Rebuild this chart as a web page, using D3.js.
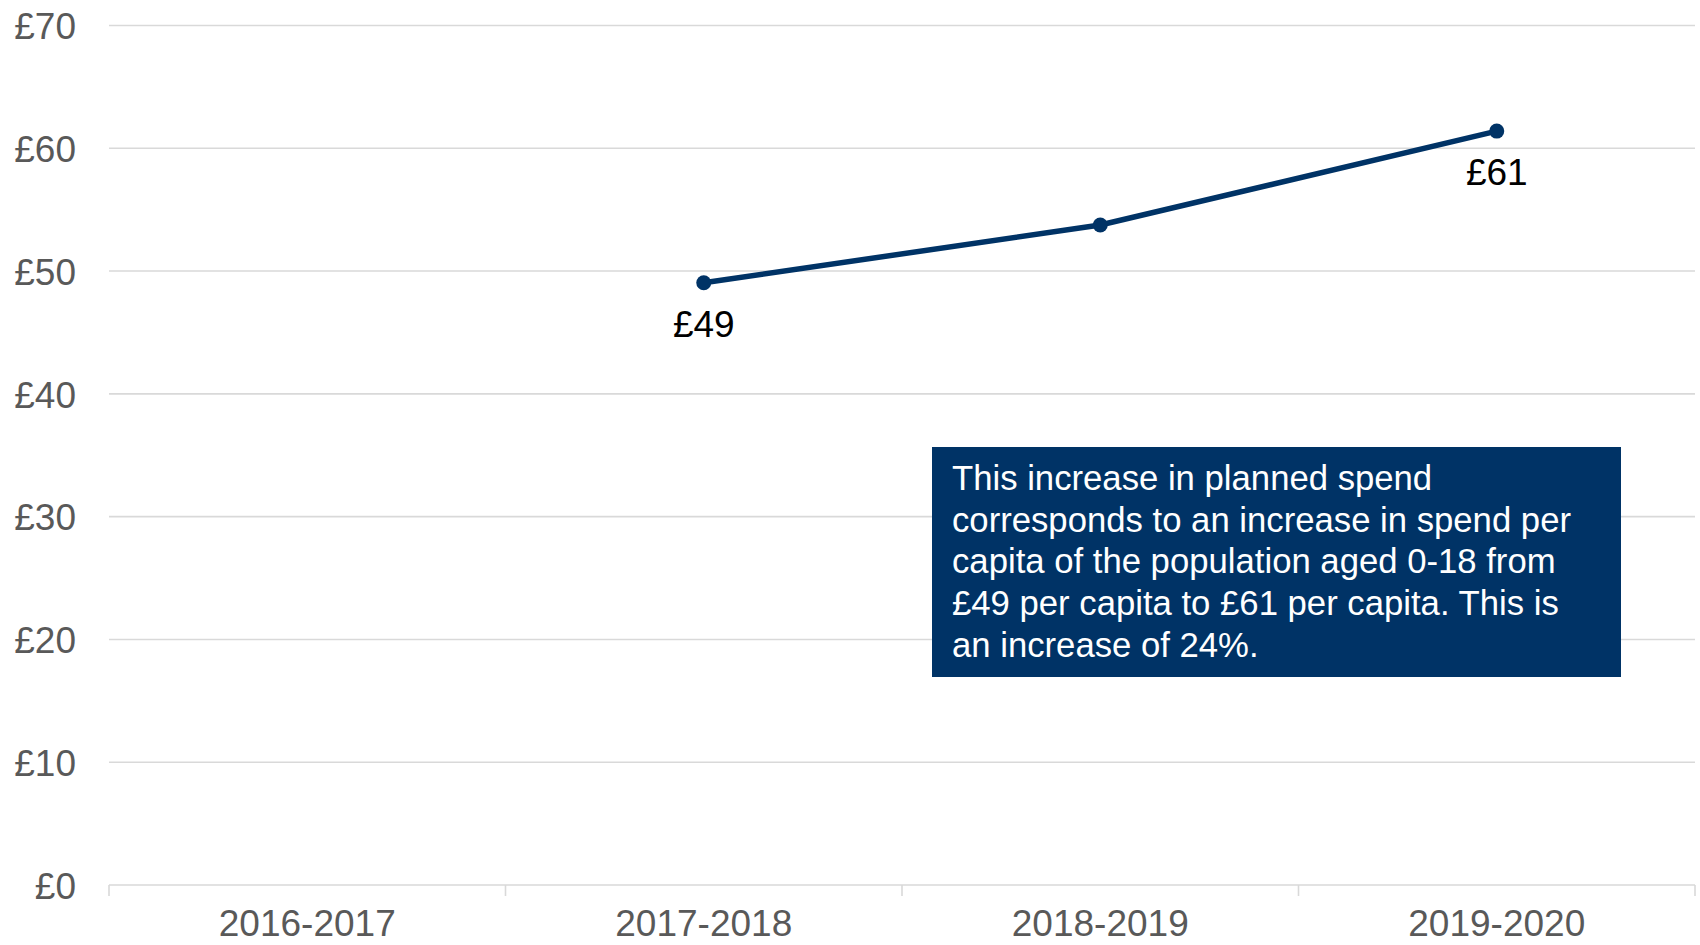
<!DOCTYPE html>
<html>
<head>
<meta charset="utf-8">
<script src="https://cdn.jsdelivr.net/npm/d3@7"></script>
<style>
  html, body { margin: 0; padding: 0; background: #ffffff; }
  svg { display: block; font-family: "Liberation Sans", Arial, sans-serif; }
</style>
</head>
<body>
<svg id="chart" width="1700" height="945"></svg>
<script>
const categories = ["2016-2017", "2017-2018", "2018-2019", "2019-2020"];
const spendPerCapita = [null, 49.05, 53.75, 61.4];
const pointLabels = [null, "£49", null, "£61"];
const yTicks = [0, 10, 20, 30, 40, 50, 60, 70];
const calloutLines = [
  "This increase in planned spend",
  "corresponds to an increase in spend per",
  "capita of the population aged 0-18 from",
  "£49 per capita to £61 per capita. This is",
  "an increase of 24%."
];

(function () {
const svg = d3.select("#chart");
const plotLeft = 109, plotRight = 1695, plotTop = 25.5, plotBottom = 885;

const x = d3.scaleBand().domain(categories).range([plotLeft, plotRight]).padding(0);
const y = d3.scaleLinear().domain([0, 70]).range([plotBottom, plotTop]);

// gridlines
svg.append("g")
  .selectAll("line")
  .data(yTicks.filter(d => d !== 0))
  .join("line")
  .attr("x1", plotLeft).attr("x2", plotRight)
  .attr("y1", d => y(d)).attr("y2", d => y(d))
  .attr("stroke", "#d9d9d9").attr("stroke-width", 1.6);

// y axis labels
const yAxis = d3.axisLeft(y).tickValues(yTicks).tickFormat(d => "£" + d).tickSize(0).tickPadding(0);
const gy = svg.append("g").attr("transform", `translate(${plotLeft - 33},0)`).call(yAxis);
gy.select(".domain").remove();
gy.selectAll("text")
  .attr("fill", "#595959")
  .style("font-size", "37px")
  .style("font-family", "'Liberation Sans', Arial, sans-serif")
  .attr("dy", "0.36em");

// x axis
const xAxis = d3.axisBottom(x).tickSize(0).tickPadding(0);
const gx = svg.append("g").attr("transform", `translate(0,${plotBottom})`).call(xAxis);
gx.select(".domain").attr("stroke", "#d9d9d9").attr("stroke-width", 1.6)
  .attr("d", `M${plotLeft},0H${plotRight}`);
gx.selectAll("text")
  .attr("fill", "#595959")
  .style("font-size", "37px")
  .style("font-family", "'Liberation Sans', Arial, sans-serif")
  .attr("y", 51).attr("dy", 0);
// boundary ticks
const boundaries = categories.map(c => x(c)).concat([x(categories[categories.length - 1]) + x.bandwidth()]);
gx.append("g").selectAll("line")
  .data(boundaries)
  .join("line")
  .attr("x1", d => d).attr("x2", d => d)
  .attr("y1", 0).attr("y2", 11)
  .attr("stroke", "#d9d9d9").attr("stroke-width", 1.6);

// line
const pts = categories.map((c, i) => ({ c, v: spendPerCapita[i], label: pointLabels[i] }));
const line = d3.line()
  .defined(d => d.v !== null)
  .x(d => x(d.c) + x.bandwidth() / 2)
  .y(d => y(d.v));

const navy = "#003366";
svg.append("path")
  .datum(pts)
  .attr("d", line)
  .attr("fill", "none")
  .attr("stroke", navy)
  .attr("stroke-width", 5.5)
  .attr("stroke-linejoin", "round");

svg.append("g").selectAll("circle")
  .data(pts.filter(d => d.v !== null))
  .join("circle")
  .attr("cx", d => x(d.c) + x.bandwidth() / 2)
  .attr("cy", d => y(d.v))
  .attr("r", 7.5)
  .attr("fill", navy);

svg.append("g").selectAll("text")
  .data(pts.filter(d => d.label))
  .join("text")
  .attr("x", d => x(d.c) + x.bandwidth() / 2)
  .attr("y", d => y(d.v) + 54)
  .attr("text-anchor", "middle")
  .attr("fill", "#000000")
  .style("font-size", "37px")
  .text(d => d.label);

// callout box
const box = svg.append("g");
box.append("rect")
  .attr("x", 932).attr("y", 447)
  .attr("width", 689).attr("height", 230)
  .attr("fill", navy);
box.append("g").selectAll("text")
  .data(calloutLines)
  .join("text")
  .attr("x", 952)
  .attr("y", (d, i) => 490 + i * 41.7)
  .attr("fill", "#ffffff")
  .style("font-size", "34.7px")
  .text(d => d);
})();
</script>
</body>
</html>
